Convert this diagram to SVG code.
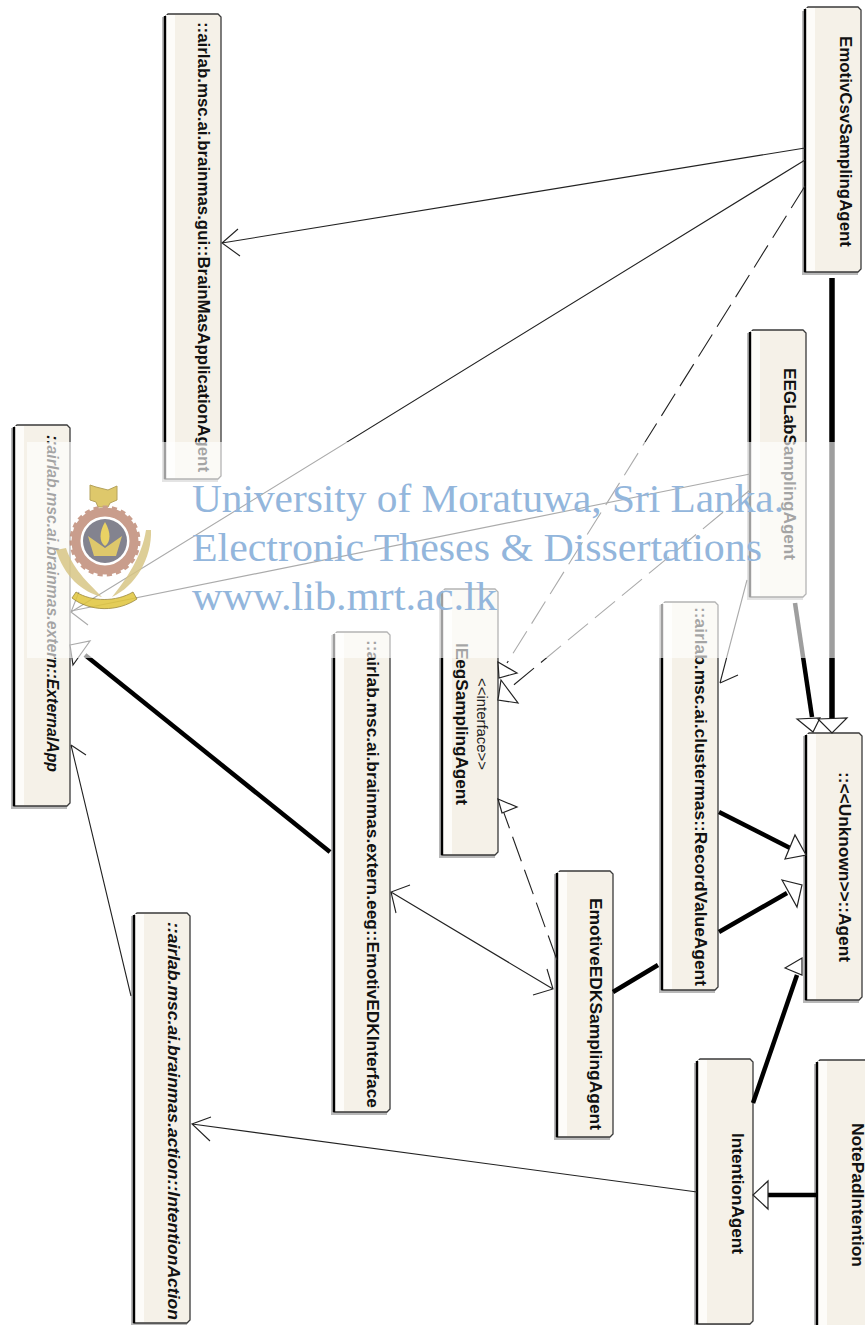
<svg xmlns="http://www.w3.org/2000/svg" width="865" height="1325" viewBox="0 0 865 1325">
<style>
.shadow{fill:#b8b8b8}
.body{fill:#f5f1e8;stroke:#3a3a3a;stroke-width:1.3}
.strip{fill:#fdfcf9}
.edge{stroke:#000;stroke-width:2.4;fill:none}
.n{font-family:"Liberation Sans",Arial,sans-serif;font-size:16.5px;font-weight:bold;fill:#111}
.i{font-style:italic}
.s{font-family:"Liberation Sans",Arial,sans-serif;font-size:15px;fill:#222}
.thin{stroke:#222;stroke-width:1.1;fill:none}
.dash{stroke:#222;stroke-width:1.1;fill:none;stroke-dasharray:26 9}
.thick{stroke:#000;stroke-width:4.5;fill:none}
.tri{fill:#fff;stroke:#222;stroke-width:1.2}
.wm{font-family:"Liberation Serif","Times New Roman",serif;font-size:41px;fill:#93b6dc}
</style>
<rect width="865" height="1325" fill="#fff"/>

<g id="node-brainmas">
<rect class="shadow" x="162" y="17" width="56" height="465"/>
<path class="body" d="M168 14H218L221 17V476L218 479H165V17Z"/>
<rect class="strip" x="166" y="15" width="9" height="463"/>
<path class="edge" d="M165 16V479"/>
<text class="n" textLength="450" lengthAdjust="spacingAndGlyphs" transform="translate(198,22) rotate(90)">::airlab.msc.ai.brainmas.gui::BrainMasApplicationAgent</text>
</g>
<g id="node-externalapp">
<rect class="shadow" x="11" y="428" width="56" height="381"/>
<path class="body" d="M17 425H67L70 428V803L67 806H14V428Z"/>
<rect class="strip" x="15" y="426" width="9" height="379"/>
<path class="edge" d="M14 427V806"/>
<text class="n i" textLength="337" lengthAdjust="spacingAndGlyphs" transform="translate(47,435) rotate(90)">::airlab.msc.ai.brainmas.extern::ExternalApp</text>
</g>
<g id="node-csv">
<rect class="shadow" x="802" y="11" width="56" height="264"/>
<path class="body" d="M808 7H858L861 10V269L858 272H805V10Z"/>
<rect class="strip" x="806" y="8" width="9" height="263"/>
<path class="edge" d="M805 9V272"/>
<text class="n" textLength="211" lengthAdjust="spacingAndGlyphs" transform="translate(840,36) rotate(90)">EmotivCsvSamplingAgent</text>
</g>
<g id="node-eeglab">
<rect class="shadow" x="747" y="333" width="56" height="267"/>
<path class="body" d="M753 330H803L806 333V594L803 597H750V333Z"/>
<rect class="strip" x="751" y="331" width="9" height="265"/>
<path class="edge" d="M750 332V597"/>
<text class="n" textLength="192" lengthAdjust="spacingAndGlyphs" transform="translate(784,368) rotate(90)">EEGLabSamplingAgent</text>
</g>
<g id="node-record">
<rect class="shadow" x="659" y="605" width="56" height="388"/>
<path class="body" d="M665 602H715L718 605V987L715 990H662V605Z"/>
<rect class="strip" x="663" y="603" width="9" height="386"/>
<path class="edge" d="M662 604V990"/>
<text class="n" textLength="379" lengthAdjust="spacingAndGlyphs" transform="translate(695,607) rotate(90)">::airlab.msc.ai.clustermas::RecordValueAgent</text>
</g>
<g id="node-agent">
<rect class="shadow" x="803" y="736" width="56" height="267"/>
<path class="body" d="M809 733H859L862 736V997L859 1000H806V736Z"/>
<rect class="strip" x="807" y="734" width="9" height="265"/>
<path class="edge" d="M806 735V1000"/>
<text class="n" textLength="190" lengthAdjust="spacingAndGlyphs" transform="translate(839,772) rotate(90)">::&lt;&lt;Unknown&gt;&gt;::Agent</text>
</g>
<g id="node-ieeg">
<rect class="shadow" x="439" y="592" width="56" height="266"/>
<path class="body" d="M445 589H495L498 592V852L495 855H442V592Z"/>
<rect class="strip" x="443" y="590" width="9" height="264"/>
<path class="edge" d="M442 591V855"/>
<text class="s" textLength="92" lengthAdjust="spacingAndGlyphs" transform="translate(477,678) rotate(90)">&lt;&lt;interface&gt;&gt;</text>
<text class="n" textLength="162" lengthAdjust="spacingAndGlyphs" transform="translate(456,643) rotate(90)">IEegSamplingAgent</text>
</g>
<g id="node-edkinterface">
<rect class="shadow" x="331" y="635" width="56" height="480"/>
<path class="body" d="M337 632H387L390 635V1109L387 1112H334V635Z"/>
<rect class="strip" x="335" y="633" width="9" height="478"/>
<path class="edge" d="M334 634V1112"/>
<text class="n" textLength="468" lengthAdjust="spacingAndGlyphs" transform="translate(367,640) rotate(90)">::airlab.msc.ai.brainmas.extern.eeg::EmotivEDKInterface</text>
</g>
<g id="node-edksampling">
<rect class="shadow" x="554" y="874" width="56" height="266"/>
<path class="body" d="M560 871H610L613 874V1134L610 1137H557V874Z"/>
<rect class="strip" x="558" y="872" width="9" height="264"/>
<path class="edge" d="M557 873V1137"/>
<text class="n" textLength="232" lengthAdjust="spacingAndGlyphs" transform="translate(590,898) rotate(90)">EmotiveEDKSamplingAgent</text>
</g>
<g id="node-intentionaction">
<rect class="shadow" x="131" y="916" width="56" height="410"/>
<path class="body" d="M137 913H187L190 916V1320L187 1323H134V916Z"/>
<rect class="strip" x="135" y="914" width="9" height="408"/>
<path class="edge" d="M134 915V1323"/>
<text class="n i" textLength="398" lengthAdjust="spacingAndGlyphs" transform="translate(168,922) rotate(90)">::airlab.msc.ai.brainmas.action::IntentionAction</text>
</g>
<g id="node-intentionagent">
<rect class="shadow" x="694" y="1063" width="56" height="264"/>
<path class="body" d="M700 1059H750L753 1062V1321L750 1324H697V1062Z"/>
<rect class="strip" x="698" y="1060" width="9" height="263"/>
<path class="edge" d="M697 1061V1324"/>
<text class="n" textLength="121" lengthAdjust="spacingAndGlyphs" transform="translate(732,1133) rotate(90)">IntentionAgent</text>
</g>
<g id="node-notepad">
<rect class="shadow" x="814" y="1064" width="56" height="262"/>
<path class="body" d="M820 1060H870V1326H817V1063Z"/>
<rect class="strip" x="818" y="1061" width="9" height="264"/>
<path class="edge" d="M817 1062V1325"/>
<text class="n" textLength="144" lengthAdjust="spacingAndGlyphs" transform="translate(852,1123) rotate(90)">NotePadIntention</text>
</g>

<g id="connectors">
<path class="thin" d="M805 148L222 243M238 229L222 243L240 256"/>
<path class="thin" d="M805 160L71 612M88 625L71 612L79 592"/>
<path class="dash" d="M805 186L507 663"/>
<path class="dash" d="M750 490L510 688"/>
<path class="thin" d="M750 474L71 611"/>
<path class="thin" d="M747 580L720 683M738 675L720 683"/>
<path class="thick" d="M795 603L812 717"/>
<path class="thick" style="stroke-width:5.5" d="M832 278V718"/>
<path class="thick" d="M719 812L790 848"/>
<path class="thick" d="M613 992L658 965M719 932L787 893"/>
<path class="thick" d="M753 1103L797 975"/>
<path class="thick" d="M817 1195H768"/>
<path class="thin" d="M697 1192L192 1124M210 1141L192 1124L211 1117"/>
<path class="thin" d="M131 996L71 745M86 755L71 745"/>
<path class="thick" d="M330 852L85 655"/>
<path class="thin" d="M391 892L553 989M410 885L391 892L396 913M547 969L553 989L533 995"/>
<path class="dash" d="M557 960L500 802"/>
<polygon class="tri" points="498,662 517,673 499,678"/>
<polygon class="tri" points="501,680 518,703 498,700"/>
<polygon class="tri" points="498,799 517,807 502,813"/>
<polygon class="tri" points="797,719 820,718 813,732"/>
<polygon class="tri" points="818,719 847,718 832,733"/>
<polygon class="tri" points="785,859 795,835 806,855"/>
<polygon class="tri" points="782,880 802,885 797,907"/>
<polygon class="tri" points="785,968 802,958 802,975"/>
<polygon class="tri" points="768,1181 753,1195 768,1209"/>
<polygon class="tri" points="70,645 90,641 73,665"/>
</g>

<rect x="27" y="442" width="838" height="216" fill="#fff" opacity="0.62"/>

<g id="watermark-logo" opacity="0.85">
<path d="M90 485L96 487L108 490L117 486V500L110 503L108 507H98L96 502L90 500Z" fill="#d9bf52" stroke="#a8923e" stroke-width="1"/>
<circle cx="105" cy="541" r="29" fill="none" stroke="#c08d78" stroke-width="9"/>
<circle cx="105" cy="541" r="33" fill="none" stroke="#c08d78" stroke-width="5" stroke-dasharray="5 4"/>
<circle cx="105" cy="541" r="22" fill="#6e6e7c"/>
<path d="M105 522C111 532 111 542 105 546C99 542 99 532 105 522Z" fill="#e6cb4a"/>
<path d="M88 536L105 548L122 536L116 556H94Z" fill="#d9bf52"/>
<path d="M56 550C64 576 82 592 102 597C92 586 74 572 66 548Z" fill="#d8c686"/>
<path d="M151 530C152 558 136 586 112 597C126 580 142 556 146 530Z" fill="#d8c686"/>
<path d="M72 598C90 612 118 612 137 599L133 592C116 602 92 602 76 592Z" fill="#e0c53c" stroke="#8a7520" stroke-width="0.8"/>
</g>

<g id="watermark">
<text class="wm" x="192" y="512" textLength="592" lengthAdjust="spacingAndGlyphs">University of Moratuwa, Sri Lanka.</text>
<text class="wm" x="192" y="561" textLength="570" lengthAdjust="spacingAndGlyphs">Electronic Theses &amp; Dissertations</text>
<text class="wm" x="192" y="610" textLength="305" lengthAdjust="spacingAndGlyphs">www.lib.mrt.ac.lk</text>
</g>
</svg>
